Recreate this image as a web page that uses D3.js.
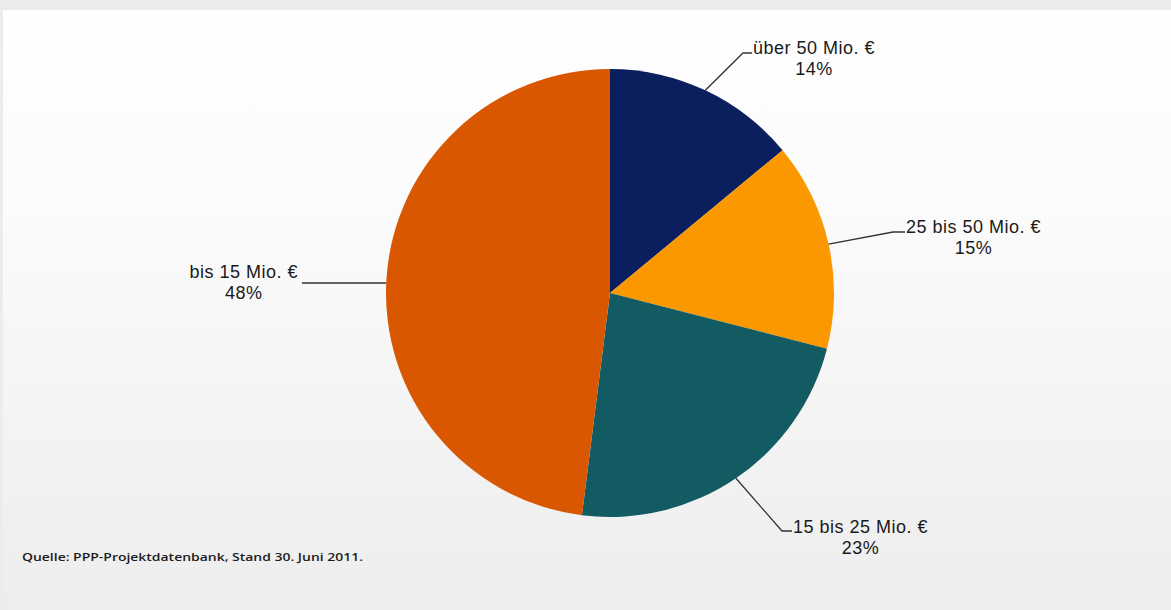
<!DOCTYPE html>
<html><head><meta charset="utf-8">
<script src="https://cdn.jsdelivr.net/npm/d3@7"></script>
<style>html,body{margin:0;padding:0;background:#fff;}svg{display:block;}</style>
</head><body>
<svg id="c" width="1171" height="610"></svg>
<script>
const categories = ["über 50 Mio. €", "25 bis 50 Mio. €", "15 bis 25 Mio. €", "bis 15 Mio. €"];
const shares = [14, 15, 23, 48];
const shareLabels = ["14%", "15%", "23%", "48%"];
const colors = ["#0b1f5e", "#fb9800", "#125b63", "#d95700"];
const source = "Quelle: PPP-Projektdatenbank, Stand 30. Juni 2011.";

const W = 1171, H = 610;
const svg = d3.select("#c");
const defs = svg.append("defs");
const grad = defs.append("linearGradient").attr("id","bg").attr("x1",0).attr("y1",0).attr("x2",0).attr("y2",1);
grad.append("stop").attr("offset","0%").attr("stop-color","#ffffff");
grad.append("stop").attr("offset","35%").attr("stop-color","#fbfbfb");
grad.append("stop").attr("offset","100%").attr("stop-color","#ededed");
svg.append("rect").attr("width",W).attr("height",H).attr("fill","url(#bg)");
svg.append("rect").attr("width",W).attr("height",10).attr("fill","#ebebeb");
svg.append("rect").attr("x",0).attr("y",0).attr("width",3).attr("height",H).attr("fill","#ececec");

const cx = 610, cy = 293, R = 224;
const pie = d3.pie().sort(null).value(d => d)(shares);
const arc = d3.arc().innerRadius(0).outerRadius(R);
const g = svg.append("g").attr("transform",`translate(${cx},${cy})`);
g.selectAll("path").data(pie).join("path").attr("d",arc).attr("fill",(d,i)=>colors[i]);

// label layout: elbow point, end of leader, text side, baseline y
const layout = [
  {elbow:[743,53], end:[752,53], side:"right", ty:54},
  {elbow:[893,232], end:[905,232], side:"right", ty:233},
  {elbow:[782,531], end:[792,531], side:"right", ty:533},
  {elbow:null, end:[302,283], side:"left", ty:278}
];
const lab = svg.append("g").attr("font-family","'Liberation Sans', Arial, sans-serif").attr("fill","#1a1a1a")
  .attr("font-size",18).attr("letter-spacing",0.5);
pie.forEach((d,i)=>{
  const L = layout[i];
  let start;
  if (L.elbow) {
    const a = (d.startAngle + d.endAngle)/2;
    start = [cx + R*Math.sin(a), cy - R*Math.cos(a)];
  } else {
    const dy = L.end[1]-cy;
    start = [cx - Math.sqrt(R*R-dy*dy), L.end[1]];
  }
  const pts = L.elbow ? [start, L.elbow, L.end] : [start, L.end];
  svg.append("path").attr("d", d3.line()(pts)).attr("fill","none").attr("stroke","#333").attr("stroke-width",1.3);
  const t = lab.append("text").attr("text-anchor","middle").attr("y",L.ty);
  const t1 = t.append("tspan").text(categories[i]);
  const w = t1.node().getComputedTextLength();
  const xc = L.side === "right" ? L.end[0] + 1 + w/2 : L.end[0] - 4 - w/2;
  t1.attr("x", xc);
  t.append("tspan").attr("x", xc).attr("dy", 20.5).text(shareLabels[i]);
});

svg.append("text").attr("x",22).attr("y",561).attr("font-family","'Open Sans', sans-serif").attr("font-weight",600)
  .attr("font-size",11.5).attr("fill","#1c1c1c").attr("textLength",341).attr("lengthAdjust","spacingAndGlyphs").text(source);
</script>
</body></html>
